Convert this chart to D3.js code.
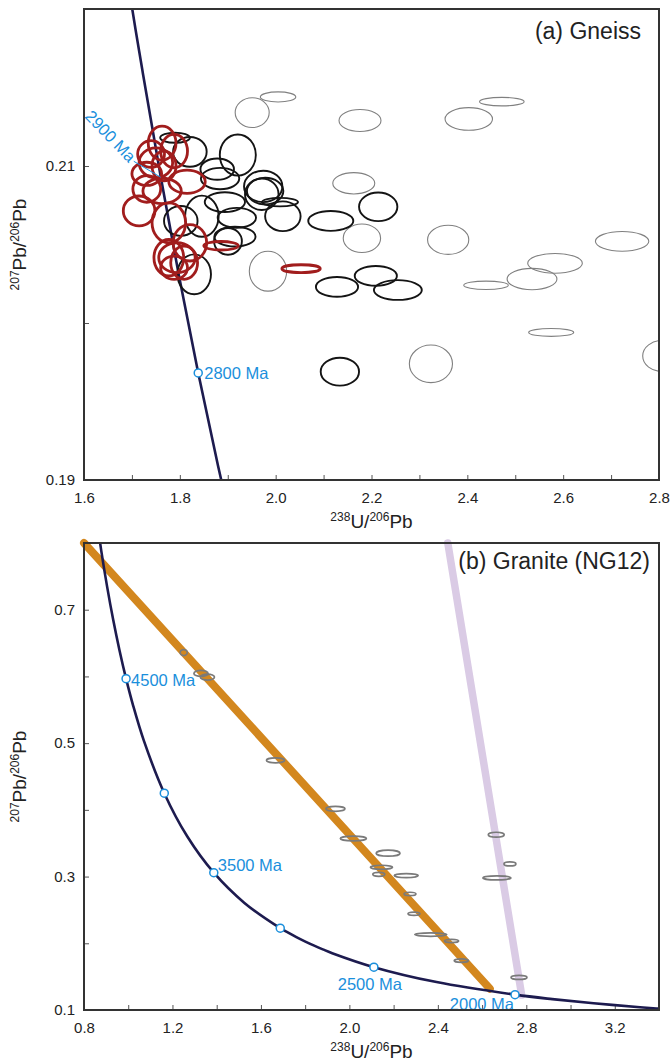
<!DOCTYPE html>
<html><head><meta charset="utf-8">
<script src="https://cdn.jsdelivr.net/npm/d3@7"></script>
<style>
body{margin:0;background:#fff}
svg text{font-family:"Liberation Sans",Arial,Helvetica,sans-serif}
</style>
</head><body>
<script>
// ---------------- DATA ----------------
// Concordia (Tera-Wasserburg) reference points: age (Ma), 238U/206Pb, 207Pb/206Pb
const concordiaAge = [1600,1650,1700,1800,1900,2000,2250,2500,2700,2750,2800,2850,2900,2950,3000,3250,3500,3750,4000,4250,4400,4500,4600,4700,4800,4900,5000];
const concordiaX   = [3.5496,3.4284,3.3140,3.1046,2.9174,2.7490,2.3941,2.1108,1.9224,1.8797,1.8384,1.7986,1.7603,1.7232,1.6874,1.5254,1.3869,1.2672,1.1630,1.0714,1.0215,0.9902,0.9604,0.9318,0.9045,0.8783,0.8533];
const concordiaY   = [0.09871,0.10141,0.10419,0.11004,0.11629,0.12299,0.14186,0.16426,0.18520,0.19091,0.19682,0.20294,0.20928,0.21585,0.22266,0.26054,0.30583,0.36004,0.42501,0.50299,0.55714,0.59670,0.63932,0.68521,0.73464,0.78788,0.84527];

// Panel (a) Gneiss: ellipses [238U/206Pb, 207Pb/206Pb, half-width x, half-height y]
const gneissGrey = [
 [1.951,0.2134,0.0355,0.00095],[2.005,0.2144,0.037,0.00032],[2.176,0.2129,0.0438,0.0007],
 [2.163,0.2089,0.0438,0.00068],[2.180,0.2054,0.039,0.00091],[1.984,0.2033,0.039,0.00127],
 [2.403,0.2130,0.0495,0.00072],[2.472,0.2141,0.0465,0.00027],[2.360,0.2053,0.043,0.00093],
 [2.723,0.2052,0.0557,0.00063],[2.583,0.2038,0.057,0.00063],[2.535,0.2028,0.052,0.00068],
 [2.439,0.2024,0.0465,0.00027],[2.575,0.1994,0.047,0.00025],[2.324,0.1974,0.045,0.0012],
 [2.808,0.1979,0.042,0.001]
];
const gneissBlack = [
 [1.921,0.2107,0.0376,0.00131],[1.790,0.2118,0.031,0.00032],[1.821,0.2109,0.035,0.00095],
 [1.878,0.2098,0.035,0.00068],[1.884,0.2092,0.040,0.00068],[1.974,0.2087,0.040,0.0010],
 [1.978,0.2084,0.038,0.00085],[1.971,0.2082,0.035,0.0010],[2.009,0.2077,0.0376,0.00027],
 [2.015,0.2068,0.037,0.00095],[1.894,0.2077,0.042,0.00063],[1.919,0.2067,0.040,0.00063],
 [1.846,0.2068,0.035,0.00131],[1.915,0.2055,0.043,0.00063],[1.9005,0.2052,0.029,0.00085],
 [1.802,0.2065,0.035,0.00095],[1.830,0.2031,0.035,0.00127],[2.115,0.2065,0.047,0.00063],
 [2.214,0.2074,0.040,0.00091],[2.128,0.2023,0.044,0.00063],[2.209,0.2030,0.044,0.00063],
 [2.255,0.2021,0.050,0.00063],[2.134,0.1969,0.040,0.00089]
];
const gneissRed = [
 [1.763,0.21146,0.029,0.00108],[1.788,0.21095,0.028,0.00106],[1.740,0.21076,0.028,0.00085],
 [1.750,0.2102,0.035,0.00095],[1.731,0.2095,0.031,0.00074],[1.767,0.2100,0.025,0.00095],
 [1.815,0.2090,0.038,0.00074],[1.731,0.20854,0.029,0.00085],[1.763,0.20841,0.040,0.00081],
 [1.715,0.20714,0.033,0.00095],[1.777,0.20638,0.035,0.00127],[1.821,0.20511,0.035,0.00116],
 [1.777,0.20416,0.031,0.00116],[1.794,0.20416,0.038,0.00095],[1.788,0.20352,0.028,0.00074],
 [1.809,0.20384,0.028,0.00106],[1.886,0.20492,0.036,0.00027],[2.053,0.20346,0.040,0.00025]
];

// Panel (b) Granite NG12
const graniteOrangeGroup = [
 [1.251,0.6358,0.016,0.0045],[1.329,0.6045,0.032,0.0045],[1.358,0.5990,0.032,0.0045],
 [1.666,0.4742,0.041,0.0037],[1.937,0.4015,0.043,0.0037],[2.018,0.3570,0.059,0.0035],
 [2.175,0.3350,0.054,0.0045],[2.145,0.3140,0.050,0.0030],[2.133,0.3034,0.027,0.0030],
 [2.257,0.3015,0.054,0.0030],[2.274,0.2740,0.027,0.0025],[2.292,0.2443,0.027,0.0025],
 [2.368,0.2130,0.072,0.0025],[2.462,0.2035,0.032,0.0025],[2.506,0.1740,0.032,0.0025]
];
const graniteLilacGroup = [
 [2.664,0.3627,0.036,0.0037],[2.726,0.3190,0.027,0.0030],[2.667,0.2980,0.063,0.0030],
 [2.767,0.1488,0.036,0.0030]
];
const discordiaOrange = [[0.8,0.8],[2.635,0.132]];
const discordiaLilac  = [[2.445,0.8],[2.779,0.1224]];

// Age markers
const aMarkerAges = [2800];
const aMarkerLabels = ["2800 Ma"];
const aRotatedLabelAge = 2900;
const bMarkerAges = [4500,4000,3500,3000,2500,2000];
const bMarkerLabels = ["4500 Ma","","3500 Ma","","2500 Ma","2000 Ma"];

// Ticks
const aXMajor=[1.6,1.8,2.0,2.2,2.4,2.6,2.8], aXMinor=[1.7,1.9,2.1,2.3,2.5,2.7];
const aYMajor=[0.19,0.21], aYMinor=[0.20];
const bXMajor=[0.8,1.2,1.6,2.0,2.4,2.8,3.2], bXMinor=[1.0,1.4,1.8,2.2,2.6,3.0];
const bYMajor=[0.1,0.3,0.5,0.7], bYMinor=[0.2,0.4,0.6];

// ---------------- DRAWING ----------------
const svg = d3.select("body").append("svg").attr("width",670).attr("height",1063);
const BLUE="#1a8fdc", NAVY="#1d1b4f", LABFS=16.5;
const concPts = concordiaAge.map((a,i)=>({age:a,x:concordiaX[i],y:concordiaY[i]}));
const ageLookup = a => concPts.find(p=>p.age===a);

function panel(id, x, y, xMaj, xMin, yMaj, yMin, yFmt){
  const g = svg.append("g");
  const [L,R]=x.range(), [B,T]=y.range();
  svg.append("defs").append("clipPath").attr("id",id).append("rect")
    .attr("x",L).attr("y",T).attr("width",R-L).attr("height",B-T);
  const styleAxis = s => { s.select(".domain").remove();
    s.selectAll(".tick line").attr("stroke","#555");
    s.selectAll(".tick text").attr("font-size",15).attr("fill","#222")
      .attr("font-family","'Liberation Sans',Arial,sans-serif"); };
  g.append("g").attr("transform",`translate(0,${B})`)
    .call(d3.axisBottom(x).tickValues(xMaj).tickFormat(d=>d.toFixed(1)).tickSizeInner(-5).tickSizeOuter(0).tickPadding(12)).call(styleAxis);
  g.append("g").attr("transform",`translate(0,${B})`)
    .call(d3.axisBottom(x).tickValues(xMin).tickFormat("").tickSizeInner(-5).tickSizeOuter(0)).call(styleAxis);
  g.append("g").attr("transform",`translate(${L},0)`)
    .call(d3.axisLeft(y).tickValues(yMaj).tickFormat(yFmt).tickSizeInner(-5).tickSizeOuter(0).tickPadding(9)).call(styleAxis);
  g.append("g").attr("transform",`translate(${L},0)`)
    .call(d3.axisLeft(y).tickValues(yMin).tickFormat("").tickSizeInner(-5).tickSizeOuter(0)).call(styleAxis);
  const plot = g.append("g");
  g.append("rect").attr("x",L).attr("y",T).attr("width",R-L).attr("height",B-T)
    .attr("fill","none").attr("stroke","#333").attr("stroke-width",2);
  // axis titles
  const xt = g.append("text").attr("x",(L+R)/2).attr("y",B+48).attr("text-anchor","middle").attr("fill","#222");
  xt.append("tspan").attr("font-size",12).attr("dy",-7).text("238");
  xt.append("tspan").attr("font-size",19).attr("dy",7).text("U/");
  xt.append("tspan").attr("font-size",12).attr("dy",-7).text("206");
  xt.append("tspan").attr("font-size",19).attr("dy",7).text("Pb");
  const yt = g.append("text").attr("transform",`translate(${L-58},${(T+B)/2}) rotate(-90)`).attr("text-anchor","middle").attr("fill","#222");
  yt.append("tspan").attr("font-size",12).attr("dy",-7).text("207");
  yt.append("tspan").attr("font-size",19).attr("dy",7).text("Pb/");
  yt.append("tspan").attr("font-size",12).attr("dy",-7).text("206");
  yt.append("tspan").attr("font-size",19).attr("dy",7).text("Pb");
  return {g, plot, clip:`url(#${id})`};
}

function ellipses(sel, data, x, y, stroke, sw){
  sel.selectAll(null).data(data).enter().append("ellipse")
    .attr("cx",d=>x(d[0])).attr("cy",d=>y(d[1]))
    .attr("rx",d=>x(d[0]+d[2])-x(d[0])).attr("ry",d=>y(d[1])-y(d[1]+d[3]))
    .attr("fill","none").attr("stroke",stroke).attr("stroke-width",sw);
}
const concLine = (x,y)=>d3.line().x(d=>x(d.x)).y(d=>y(d.y)).curve(d3.curveCatmullRom.alpha(0.5));

// ----- Panel (a)
const xA = d3.scaleLinear().domain([1.6,2.8]).range([84,659]);
const yA = d3.scaleLinear().domain([0.19,0.22]).range([480,9]);
const pa = panel("clipA", xA, yA, aXMajor, aXMinor, aYMajor, aYMinor, d=>d.toFixed(2));
const ca = pa.plot.append("g").attr("clip-path",pa.clip);
ca.append("path").datum(concPts.filter(p=>p.age>=2600 && p.age<=3250)).attr("d",concLine(xA,yA))
  .attr("fill","none").attr("stroke",NAVY).attr("stroke-width",2.6);
ellipses(ca, gneissGrey, xA, yA, "#808080", 1.1);
ellipses(ca, gneissBlack, xA, yA, "#141414", 1.9);
ellipses(ca, gneissRed, xA, yA, "#a11d1d", 2.8);
aMarkerAges.forEach((a,i)=>{
  const p=ageLookup(a);
  pa.plot.append("circle").attr("cx",xA(p.x)).attr("cy",yA(p.y)).attr("r",4)
    .attr("fill","#fff").attr("stroke",BLUE).attr("stroke-width",1.5);
  pa.plot.append("text").attr("x",xA(p.x)+6).attr("y",yA(p.y)).attr("dy","0.35em")
    .attr("font-size",LABFS).attr("fill",BLUE).text(aMarkerLabels[i]);
});
{
  const p=ageLookup(aRotatedLabelAge);
  const px=xA(p.x), py=yA(p.y);
  pa.plot.append("line").attr("x1",px-27).attr("y1",py-16).attr("x2",px).attr("y2",py)
    .attr("stroke",BLUE).attr("stroke-width",1);
  pa.plot.append("text").attr("transform",`translate(${px-28},${py-18}) rotate(46)`)
    .attr("text-anchor","end").attr("dy","0.35em").attr("font-size",LABFS).attr("fill",BLUE)
    .text(aRotatedLabelAge+" Ma");
}
pa.g.append("text").attr("x",641).attr("y",39).attr("text-anchor","end").attr("font-size",23).attr("fill","#222").text("(a) Gneiss");

// ----- Panel (b)
const xB = d3.scaleLinear().domain([0.8,3.4]).range([84,659]);
const yB = d3.scaleLinear().domain([0.1,0.8]).range([1010,543]);
const pb = panel("clipB", xB, yB, bXMajor, bXMinor, bYMajor, bYMinor, d=>d.toFixed(1));
const lineXY = d3.line().x(d=>xB(d[0])).y(d=>yB(d[1]));
pb.plot.append("path").datum(discordiaOrange).attr("d",lineXY).attr("fill","none")
  .attr("stroke","#d3871e").attr("stroke-width",8).attr("stroke-linecap","round");
pb.plot.append("path").datum(discordiaLilac).attr("d",lineXY).attr("fill","none")
  .attr("stroke","#dacbe5").attr("stroke-width",7.5).attr("stroke-linecap","round");
const cb = pb.plot.append("g").attr("clip-path",pb.clip);
cb.append("path").datum(concPts).attr("d",concLine(xB,yB))
  .attr("fill","none").attr("stroke",NAVY).attr("stroke-width",2.6);
ellipses(cb, graniteOrangeGroup, xB, yB, "#7a7a7a", 1.7);
ellipses(cb, graniteLilacGroup, xB, yB, "#7a7a7a", 1.7);
const bOff = {"4500 Ma":[5,2,"start"],"3500 Ma":[4,-7,"start"],"2500 Ma":[-4,17,"middle"],"2000 Ma":[-1,10,"end"]};
bMarkerAges.forEach((a,i)=>{
  const p=ageLookup(a), px=xB(p.x), py=yB(p.y);
  pb.plot.append("circle").attr("cx",px).attr("cy",py).attr("r",4)
    .attr("fill","#fff").attr("stroke",BLUE).attr("stroke-width",1.5);
  const lab=bMarkerLabels[i];
  if(lab){ const o=bOff[lab];
    pb.plot.append("text").attr("x",px+o[0]).attr("y",py+o[1]).attr("dy","0.35em")
      .attr("text-anchor",o[2]).attr("font-size",LABFS).attr("fill",BLUE).text(lab); }
});
pb.g.append("text").attr("x",650).attr("y",569).attr("text-anchor","end").attr("font-size",23).attr("fill","#222").text("(b) Granite (NG12)");
</script>
</body></html>
